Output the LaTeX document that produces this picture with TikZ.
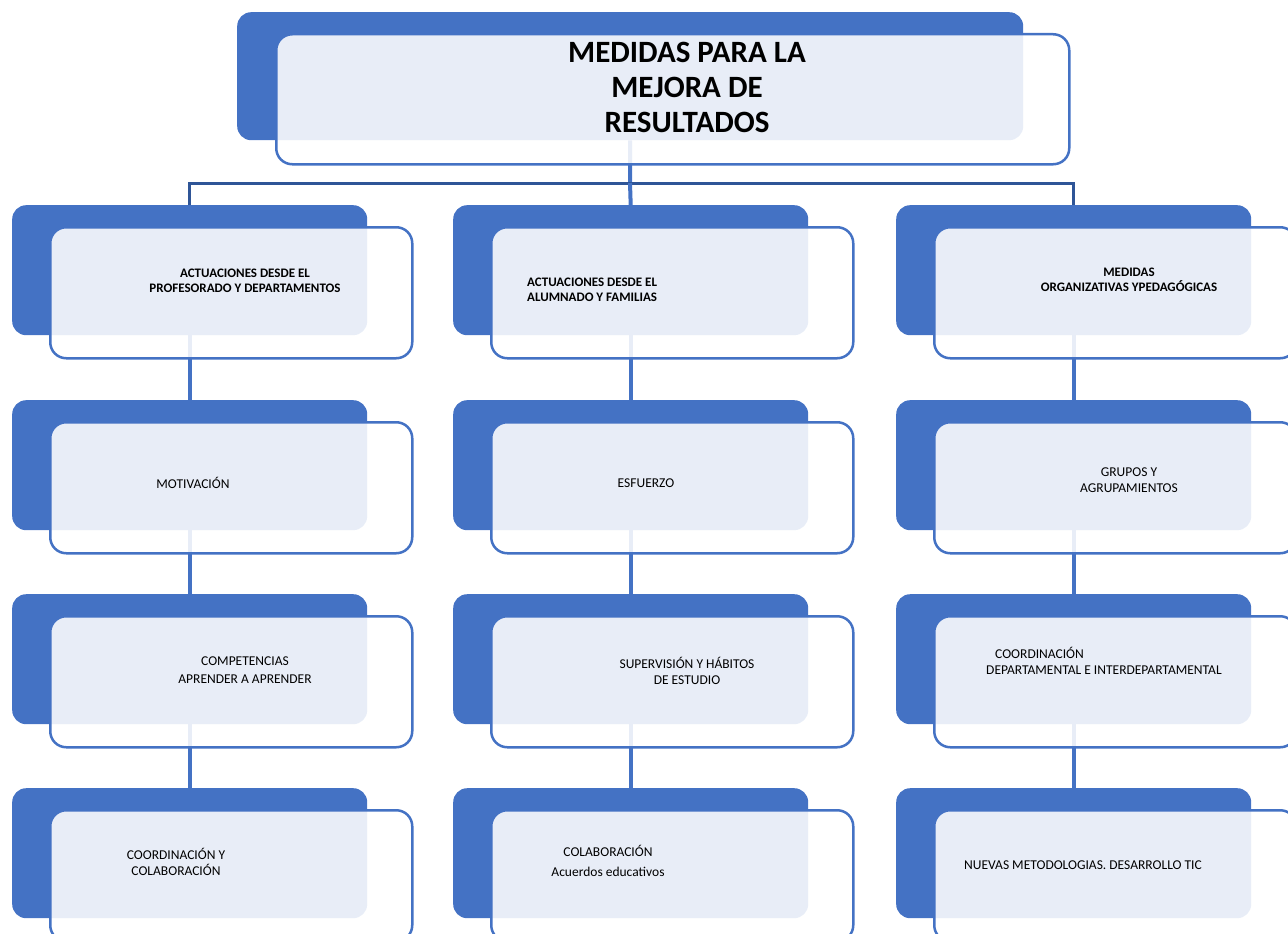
\documentclass[tikz,border=0pt]{standalone}
\usepackage{fontspec}
\setmainfont{Carlito}
\definecolor{boxblue}{HTML}{4472C4}
\definecolor{barblue}{HTML}{2F5597}
\tikzset{
  backbox/.style={fill=boxblue, rounded corners=14pt, inner sep=0pt, anchor=north west,
    minimum width=355pt, minimum height=130pt},
  frontbox/.style={draw=boxblue, line width=2.5pt, fill=white, fill opacity=0.88,
    rounded corners=16pt, inner sep=0pt, anchor=north west,
    minimum width=362pt, minimum height=131pt},
  link/.style={draw=boxblue, line width=4pt},
  barlink/.style={draw=barblue, line width=3pt},
  lbl/.style={align=center, text=black, inner sep=0pt, font=\fontsize{13.5}{16}\selectfont},
  hdr/.style={lbl, font=\bfseries\fontsize{13}{15}\selectfont},
  ttl/.style={align=center, text=black, inner sep=0pt, font=\bfseries\fontsize{31}{35}\selectfont}
}
\begin{document}
\begin{tikzpicture}[x=1pt,y=-1pt]
  \useasboundingbox (0,0) rectangle (1288,934);

  % back boxes
  \node[backbox, minimum width=786pt, minimum height=128pt] (top) at (237,12) {};
  \foreach \c/\x in {1/12,2/453,3/896}
    \foreach \r/\y in {1/205,2/400,3/594,4/788}
      \node[backbox] (bk\c\r) at (\x,\y) {};

  % connectors
  \coordinate (bar) at (630,183);
  \draw[link] (top.south) -- (bar);
  \draw[barlink] (bk11.north) |- (bar) -| (bk31.north);
  \draw[link] (bar) -- (bk21.north);
  \foreach \c in {1,2,3}
    \foreach \r/\s in {1/2,2/3,3/4}
      \draw[link] (bk\c\r.south) -- (bk\c\s.north);

  % front boxes
  \node[frontbox, minimum width=793pt, minimum height=130pt] (topfr) at (275,33) {};
  \foreach \c/\x in {1/12,2/453,3/896}
    \foreach \r/\y in {1/205,2/400,3/594,4/788}
      \node[frontbox] (fr\c\r) at ({\x+37},{\y+21}) {};

  % texts
  \node[ttl] (title) at (687,87) {MEDIDAS PARA LA\\MEJORA DE\\RESULTADOS};

  \node[hdr] (h1) at (245,281) {ACTUACIONES DESDE EL\\PROFESORADO Y DEPARTAMENTOS};
  \node[hdr, align=left, anchor=west] (h2) at (527,290) {ACTUACIONES DESDE EL\\ALUMNADO Y FAMILIAS};
  \node[hdr] (h3) at (1129,280) {MEDIDAS\\ORGANIZATIVAS YPEDAGÓGICAS};

  \node[lbl] (t12) at (193,483) {MOTIVACIÓN};
  \node[lbl] (t22) at (646,483) {ESFUERZO};
  \node[lbl] (t32) at (1129,480) {GRUPOS Y\\AGRUPAMIENTOS};

  \node[lbl, font=\fontsize{13.5}{18}\selectfont] (t13) at (245,670) {COMPETENCIAS\\APRENDER A APRENDER};
  \node[lbl] (t23) at (687,671) {SUPERVISIÓN Y HÁBITOS\\DE ESTUDIO};
  \node[lbl, align=left, anchor=west] (t33) at (986,661)
    {\hspace*{9pt}COORDINACIÓN\\DEPARTAMENTAL E INTERDEPARTAMENTAL};

  \node[lbl] (t14) at (176,862) {COORDINACIÓN Y\\COLABORACIÓN};
  \node[lbl, font=\fontsize{13.5}{20}\selectfont] (t24) at (608,861) {COLABORACIÓN\\Acuerdos educativos};
  \node[lbl] (t34) at (1083,865) {NUEVAS METODOLOGIAS. DESARROLLO TIC};
\end{tikzpicture}
\end{document}
